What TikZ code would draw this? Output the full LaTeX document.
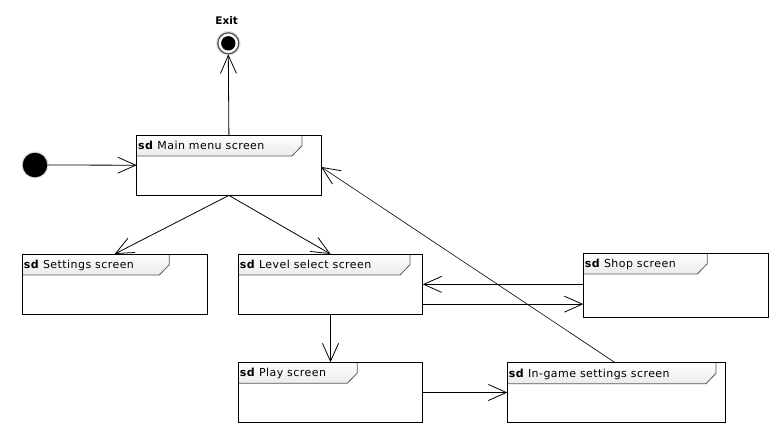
\documentclass[tikz,border=0pt]{standalone}
\usepackage{fontspec}
\setmainfont{DejaVu Sans}
\newfontfamily\sdfont[LetterSpace=4]{DejaVu Sans}
\usetikzlibrary{arrows.meta,calc}
\tikzset{
  arr/.style={-{Straight Barb[length=18pt,width=16pt,line width=0.8pt]}, line width=0.8pt},
  frame/.style={fill=white, inner sep=0pt, anchor=north west},
  lbl/.style={anchor=base west, inner sep=0pt, font=\sdfont\fontsize{11}{13}\selectfont},
  tab/.style={top color=white, bottom color=gray!16},
  tabline/.style={draw=gray!70!black, line width=0.8pt},
  border/.style={draw=black, line width=0.9pt},
}
\newcommand\sdframe[7]{% name, x, y, w, h, tabw, label
  \node[frame, minimum width=#4pt, minimum height=#5pt] (#1) at (#2,#3) {};
  \path[tab] (#1.north west) -- ++(#6,0) -- ++(0,10.7) -- ++(-10,10.3) -- ++(-#6+10,0) -- cycle;
  \draw[tabline] ($(#1.north west)+(#6,0)$) -- ++(0,10.7) -- ++(-10,10.3) -- ($(#1.north west)+(0,21)$);
  \draw[border] (#1.north west) rectangle (#1.south east);
  \node[lbl] (#1-t) at ($(#1.north west)+(1.3,14.5)$) {\textbf{sd} #7};
}
\begin{document}
\begin{tikzpicture}[x=1pt,y=-1pt]
\useasboundingbox (0,0) rectangle (782,437);
% states
\fill[gray!25] (35,165) circle (13.5);
\node[circle, fill=black, minimum size=24.6pt, inner sep=0pt] (init) at (35,165) {};
\fill[gray!20] (228.3,43.3) circle (12.5);
\node[circle, draw=gray!60!black, line width=1.2pt, fill=white, minimum size=21pt, inner sep=0pt] (exit) at (228.3,43.3) {};
\fill[black] (exit.center) circle (7.2);
\node[anchor=base, inner sep=0pt, font=\bfseries\fontsize{10.5}{12}\selectfont] (exitlbl) at (226.7,24) {Exit};
% frames
\sdframe{main}{136.7}{135}{184}{60}{165.3}{Main menu screen}
\sdframe{sett}{22.3}{254}{184.4}{60.3}{147}{Settings screen}
\sdframe{lvl}{238.3}{254}{184}{60.3}{171.7}{Level select screen}
\sdframe{shop}{583.3}{253}{184.4}{63.7}{124}{Shop screen}
\sdframe{play}{238.3}{362.3}{184}{60}{119}{Play screen}
\sdframe{ingame}{507.3}{362.7}{218}{59.6}{208.7}{In-game settings screen}
% connectors
\draw[arr] (init.east) -- (main.west);
\draw[arr] (main.north) -- (exit.south);
\draw[arr] (main.south) -- (sett.north);
\draw[arr] (main.south) -- (lvl.north);
\draw[arr] (lvl.south) -- (play.north);
\draw[arr] (shop.west |- lvl.east) -- (lvl.east);
\draw[arr] ([yshift=-19.8pt]lvl.east) -- ([yshift=-19.8pt]lvl.east -| shop.west);
\draw[arr] (play.east) -- (play.east -| ingame.west);
\draw[arr, line width=0.6pt] ([xshift=-1.3pt]ingame.north) -- ([yshift=-1.7pt]main.east);
\end{tikzpicture}
\end{document}
